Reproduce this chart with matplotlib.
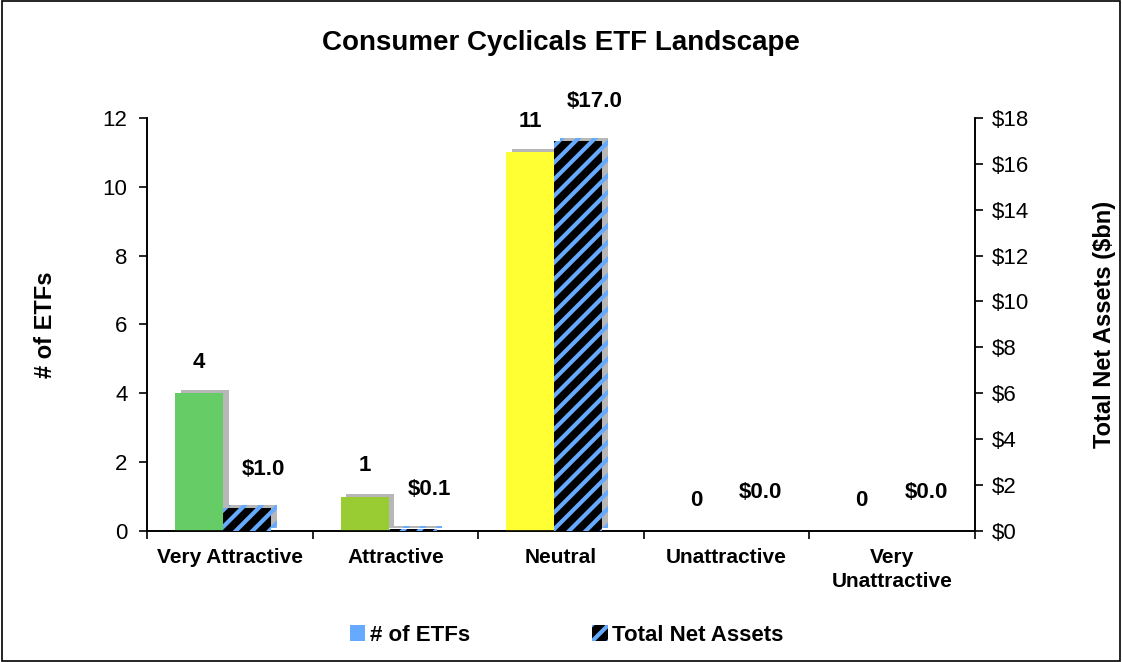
import matplotlib
matplotlib.use("Agg")
import matplotlib.pyplot as plt
import matplotlib.patheffects as pe
from matplotlib.patches import Patch, Rectangle
import numpy as np

plt.rcParams['font.family'] = ['Liberation Sans', 'DejaVu Sans']
plt.rcParams['hatch.linewidth'] = 3.0

categories = ["Very Attractive", "Attractive", "Neutral", "Unattractive", "Very\nUnattractive"]
num_etfs = [4, 1, 11, 0, 0]
net_assets = [1.0, 0.1, 17.0, 0.0, 0.0]
etf_colors = ["#66CC66", "#99CC33", "#FFFF33", "#66CC66", "#66CC66"]
left_ticks = [0, 2, 4, 6, 8, 10, 12]
right_ticks = [0, 2, 4, 6, 8, 10, 12, 14, 16, 18]

fig = plt.figure(figsize=(11.22, 6.62), dpi=100)
fig.patches.append(Rectangle((0.002, 0.002), 0.996, 0.996, transform=fig.transFigure,
                             fill=False, edgecolor='black', linewidth=1.2))
ax = fig.add_axes([0.131, 0.198, 0.738, 0.624])
ax2 = ax.twinx()

x = np.arange(len(categories))
w = 0.29
off = 0.04
shadow = [pe.SimplePatchShadow(offset=(4, 2), shadow_rgbFace='#888888', alpha=0.6), pe.Normal()]

b1 = ax.bar(x - w/2 - off, num_etfs, width=w, color=etf_colors, zorder=3)
for b in b1:
    b.set_path_effects(shadow)
b2 = ax2.bar(x + w/2 - off, net_assets, width=w, color='black', edgecolor='#66AAFF',
             hatch='//', linewidth=0, zorder=3)
for b in b2:
    b.set_path_effects(shadow)

for xi, v in zip(x, num_etfs):
    ax.annotate(f"{v}", (xi - w/2 - off, v), xytext=(0, 22), textcoords='offset points',
                ha='center', va='center', fontsize=16, fontweight='bold')
for xi, v in zip(x, net_assets):
    ax2.annotate(f"${v:.1f}", (xi + w/2 + 0.06, v), xytext=(0, 28), textcoords='offset points',
                 ha='center', va='center', fontsize=16, fontweight='bold')

ax.set_xlim(-0.5, len(categories) - 0.5)
ax.set_ylim(0, 12)
ax2.set_ylim(0, 18)
ax.set_yticks(left_ticks)
ax.set_yticklabels([str(t) for t in left_ticks], fontsize=16)
ax2.set_yticks(right_ticks)
ax2.set_yticklabels([f"${t}" for t in right_ticks], fontsize=16)
ax.set_xticks(x)
ax.set_xticklabels(categories, fontsize=15, fontweight='bold', linespacing=1.35)
ax.set_xticks(np.arange(len(categories) + 1) - 0.5, minor=True)
ax.tick_params(axis='x', which='major', length=0, pad=12)
ax.tick_params(axis='x', which='minor', length=6, width=1.2)
ax.tick_params(axis='y', length=6, width=1.2, pad=8)
ax2.tick_params(axis='y', length=6, width=1.2, pad=6)

for a in (ax, ax2):
    a.spines['top'].set_visible(False)
    for s in ('left', 'right', 'bottom'):
        a.spines[s].set_linewidth(1.2)
ax.set_ylabel("# of ETFs", fontsize=17, fontweight='bold', labelpad=33)
ax2.set_ylabel("Total Net Assets ($bn)", fontsize=17, fontweight='bold', labelpad=46)
fig.text(0.5, 0.935, "Consumer Cyclicals ETF Landscape", ha='center', va='center',
         fontsize=20, fontweight='bold')

handles = [Patch(facecolor='#66AAFF', edgecolor='none'),
           Patch(facecolor='black', edgecolor='#66AAFF', hatch='//', linewidth=0)]
fig.legend(handles, ["# of ETFs", "Total Net Assets"], loc='center', bbox_to_anchor=(0.505, 0.04),
           ncol=2, frameon=False, prop={'size': 16, 'weight': 'bold'},
           handlelength=0.7, handleheight=0.7, handletextpad=0.2, columnspacing=5.5)

fig.savefig("out.png", dpi=100)
